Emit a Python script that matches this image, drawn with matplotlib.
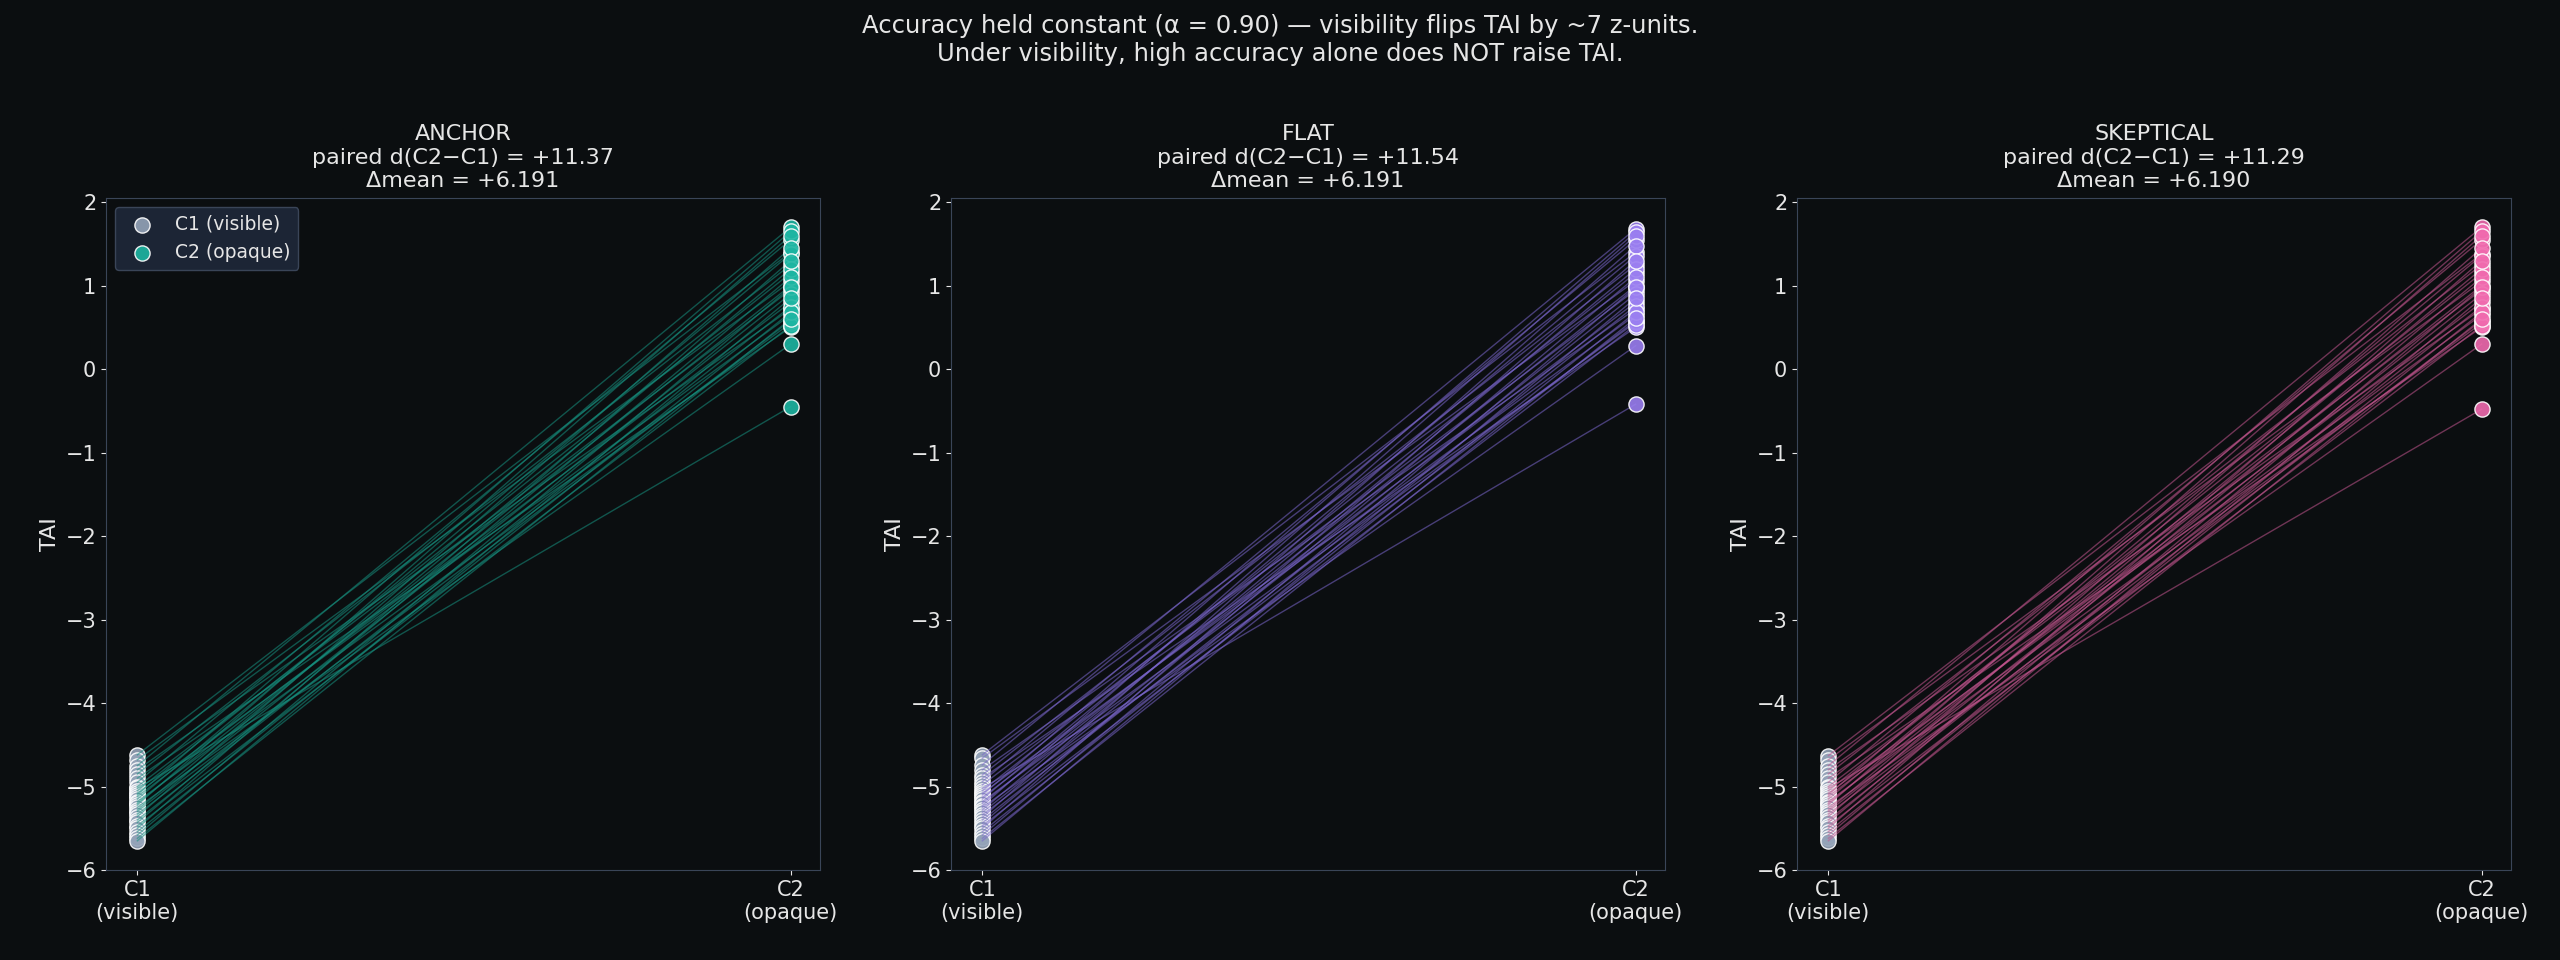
import matplotlib
matplotlib.use("Agg")
import matplotlib.pyplot as plt
import numpy as np

conditions = ["C1\n(visible)", "C2\n(opaque)"]
panels = ["ANCHOR", "FLAT", "SKEPTICAL"]
d_values = ["+11.37", "+11.54", "+11.29"]
dmeans = ["+6.191", "+6.191", "+6.190"]
colors = ["#1db5a2", "#9a7ef0", "#f06aae"]
line_colors = ["#16907f", "#7a66cc", "#c2558e"]

c1_anchor = [-4.62, -4.68, -4.75, -4.80, -4.85, -4.90, -4.95, -5.00, -5.02, -5.05,
             -5.08, -5.10, -5.12, -5.15, -5.18, -5.20, -5.22, -5.25, -5.28, -5.30,
             -5.33, -5.36, -5.40, -5.43, -5.47, -5.50, -5.54, -5.58, -5.62, -5.65]
c2_anchor = [1.70, 1.65, 1.60, 1.55, 1.45, 1.40, 1.38, 1.30, 1.25, 1.20,
             1.15, 1.10, 1.05, 1.00, 0.98, 0.95, 0.90, 0.85, 0.80, 0.75,
             0.72, 0.68, 0.65, 0.60, 0.58, 0.55, 0.52, 0.50, 0.30, -0.45]
c1_flat = [-4.62, -4.66, -4.74, -4.80, -4.86, -4.90, -4.94, -4.98, -5.02, -5.05,
           -5.08, -5.10, -5.13, -5.15, -5.18, -5.20, -5.23, -5.25, -5.28, -5.31,
           -5.34, -5.37, -5.40, -5.44, -5.47, -5.50, -5.54, -5.58, -5.62, -5.65]
c2_flat = [1.68, 1.64, 1.60, 1.55, 1.48, 1.40, 1.36, 1.30, 1.25, 1.20,
           1.15, 1.10, 1.06, 1.00, 0.98, 0.95, 0.90, 0.85, 0.80, 0.76,
           0.72, 0.68, 0.65, 0.61, 0.58, 0.56, 0.53, 0.50, 0.28, -0.42]
c1_skep = [-4.63, -4.68, -4.75, -4.80, -4.85, -4.90, -4.95, -5.00, -5.02, -5.05,
           -5.08, -5.10, -5.12, -5.15, -5.18, -5.20, -5.22, -5.25, -5.28, -5.30,
           -5.33, -5.36, -5.40, -5.43, -5.47, -5.50, -5.54, -5.58, -5.62, -5.65]
c2_skep = [1.70, 1.65, 1.60, 1.55, 1.45, 1.38, 1.36, 1.30, 1.25, 1.20,
           1.15, 1.10, 1.05, 1.00, 0.98, 0.95, 0.90, 0.85, 0.80, 0.75,
           0.72, 0.68, 0.65, 0.60, 0.58, 0.55, 0.52, 0.50, 0.30, -0.48]
c1_all = [c1_anchor, c1_flat, c1_skep]
c2_all = [c2_anchor, c2_flat, c2_skep]
pairing = [5, 12, 0, 20, 8, 27, 3, 15, 29, 10, 22, 1, 18, 6, 25, 13, 2, 28, 9, 16,
           24, 4, 19, 11, 26, 7, 21, 14, 23, 17]

bg = "#0b0e10"
spine = "#3a4558"
txt = "#e6e6e6"
plt.rcParams["font.family"] = ["DejaVu Sans"]

fig = plt.figure(figsize=(25.6, 9.6), dpi=100, facecolor=bg)
lefts = [106, 951, 1797]
for i in range(3):
    ax = fig.add_axes([lefts[i] / 2560, 1 - 870 / 960, 714 / 2560, 672 / 960])
    ax.set_facecolor(bg)
    c1 = np.array(c1_all[i]); c2 = np.array(c2_all[i])[pairing]
    for a, b in zip(c1, c2):
        ax.plot([0, 1], [a, b], color=line_colors[i], lw=1.0, alpha=0.55, zorder=3)
    ax.scatter(np.zeros(len(c1)), c1, s=120, color="#94a3b8", edgecolor="white",
               linewidth=1.0, alpha=0.9, zorder=2, label="C1 (visible)")
    ax.scatter(np.ones(len(c2)), c2, s=120, color=colors[i], edgecolor="white",
               linewidth=1.0, alpha=0.9, zorder=4, label="C2 (opaque)")
    ax.set_xlim(-0.048, 1.045)
    ax.set_ylim(-6, 2.05)
    ax.set_yticks(range(-6, 3))
    ax.set_xticks([0, 1])
    ax.set_xticklabels(conditions)
    ax.set_ylabel("TAI", color=txt, fontsize=16)
    ax.tick_params(colors=txt, labelsize=15)
    for s in ax.spines.values():
        s.set_color(spine)
    ax.set_title(f"{panels[i]}\npaired d(C2\u2212C1) = {d_values[i]}\n\u0394mean = {dmeans[i]}",
                 color=txt, fontsize=16, pad=8)
    if i == 0:
        ax.legend(loc="upper left", fontsize=13.5, facecolor="#1c2535",
                  edgecolor="#3a4558", labelcolor=txt, framealpha=1)

fig.suptitle("Accuracy held constant (\u03b1 = 0.90) \u2014 visibility flips TAI by ~7 z-units.\n"
             "Under visibility, high accuracy alone does NOT raise TAI.",
             color=txt, fontsize=17.5, y=0.985)
fig.savefig("out.png", dpi=100, facecolor=bg)
